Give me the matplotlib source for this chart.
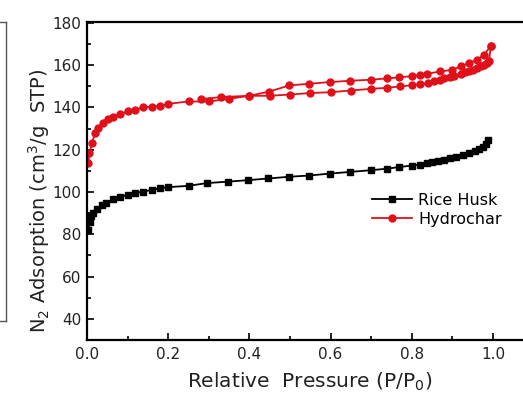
import numpy as np
import matplotlib.pyplot as plt
from matplotlib.lines import Line2D
from matplotlib.ticker import MultipleLocator

plt.rcParams['font.family'] = ['DejaVu Sans']

# Rice Husk isotherm
rh_p = [0.003, 0.007, 0.011, 0.014, 0.024, 0.036, 0.048, 0.065, 0.081, 0.10,
        0.118, 0.139, 0.159, 0.18, 0.20, 0.25, 0.295, 0.348, 0.397, 0.447,
        0.498, 0.548, 0.598, 0.648, 0.699, 0.738, 0.769, 0.80, 0.82, 0.837,
        0.85, 0.865, 0.88, 0.895, 0.91, 0.925, 0.94, 0.955, 0.965, 0.975,
        0.982, 0.988]
rh_v = [82, 86, 88.5, 90, 91.9, 93.9, 95, 96.6, 97.6, 98.7,
        99.5, 100.2, 101, 101.8, 102.3, 102.9, 104.2, 104.9, 105.6, 106.4,
        107.2, 107.8, 108.7, 109.5, 110.3, 111, 111.8, 112.5, 113, 113.5,
        114, 114.6, 115.2, 115.9, 116.6, 117.4, 118.3, 119.4, 120.3, 121.5,
        122.8, 124.5]

# Hydrochar adsorption branch
hc_ads_p = [0.003, 0.006, 0.012, 0.02, 0.028, 0.04, 0.052, 0.065, 0.081, 0.10,
            0.118, 0.139, 0.159, 0.18, 0.20, 0.25, 0.30, 0.35, 0.40, 0.45,
            0.50, 0.55, 0.60, 0.65, 0.70, 0.74, 0.77, 0.80, 0.82, 0.84,
            0.855, 0.87, 0.88, 0.895, 0.905, 0.92, 0.93, 0.94, 0.95, 0.96,
            0.97, 0.978, 0.985, 0.99, 0.995]
hc_ads_v = [113.6, 118.4, 123.1, 127.8, 130.2, 132.6, 134.5, 135.7, 136.8, 138.1,
            138.9, 140, 140.4, 140.8, 141.7, 142.8, 142.8, 144.1, 145.5, 145.5,
            146.1, 146.8, 147.2, 148, 148.8, 149.3, 149.9, 150.5, 151, 151.5,
            152.3, 153, 153.7, 154.4, 155, 155.8, 156.6, 157.2, 157.8, 158.6,
            159.4, 160.2, 160.8, 162, 169]

# Hydrochar desorption branch
hc_des_p = [0.995, 0.977, 0.96, 0.94, 0.92, 0.90, 0.87, 0.837, 0.82, 0.80,
            0.769, 0.738, 0.699, 0.648, 0.598, 0.548, 0.498, 0.449, 0.40, 0.33, 0.28]
hc_des_v = [169, 164.9, 162.5, 161, 159.4, 157.8, 157, 155.9, 155.3, 154.8,
            154.2, 153.7, 153.1, 152.6, 152, 151.2, 150.4, 147.5, 145.5, 144.9, 143.9]

red = '#e0101a'

fig = plt.figure(figsize=(5.23, 3.94), dpi=100)
ax = fig.add_axes([87/523, 1-340/394, 1-87/523, (340-22)/394])

ax.plot(rh_p, rh_v, color='black', marker='s', ms=4.2, lw=1.3)
ax.plot(hc_ads_p, hc_ads_v, color=red, marker='o', ms=5, lw=1.3)
ax.plot(hc_des_p, hc_des_v, color=red, marker='o', ms=5, lw=1.3)

ax.set_xlim(0, 436/406)
ax.set_ylim(30, 180.4)
ax.spines['right'].set_visible(False)
for s in ['left', 'top', 'bottom']:
    ax.spines[s].set_linewidth(1.6)
ax.set_xticks(np.arange(0, 1.01, 0.2))
ax.set_yticks(np.arange(40, 181, 20))
ax.xaxis.set_minor_locator(MultipleLocator(0.1))
ax.yaxis.set_minor_locator(MultipleLocator(10))
ax.tick_params(which='both', direction='in', top=False, right=False,
               labelsize=11, width=1.4, colors='#222222')
ax.tick_params(which='major', length=5)
ax.tick_params(which='minor', length=3)
ax.tick_params(axis='y', pad=4)
ax.tick_params(axis='x', pad=5)

ax.set_xlabel('Relative  Pressure (P/P$_0$)', fontsize=14.5, color='#222222')
ax.set_ylabel('N$_2$ Adsorption (cm$^3$/g  STP)', fontsize=14, color='#222222')
ax.xaxis.set_label_coords(0.511, -0.095)
ax.yaxis.set_label_coords(-0.08, 0.437)

handles = [Line2D([], [], color='black', marker='s', ms=4.2, lw=1.3),
           Line2D([], [], color=red, marker='o', ms=5, lw=1.3)]
ax.legend(handles, ['Rice Husk', 'Hydrochar'], loc='upper left',
          bbox_to_anchor=(372/523, 1-193/394), bbox_transform=fig.transFigure,
          frameon=False, fontsize=11.5, handlelength=2.5, handletextpad=0.4,
          labelspacing=0.25, borderpad=0, borderaxespad=0)

# edge of neighbouring panel on the left
fig.add_artist(Line2D([6/523, 6/523], [1-22/394, 1-321/394], color='#555555', lw=1))
fig.add_artist(Line2D([0, 6/523], [1-22/394, 1-22/394], color='#555555', lw=1))
fig.add_artist(Line2D([0, 6/523], [1-321/394, 1-321/394], color='#555555', lw=1))

fig.savefig('out.png', dpi=100)
